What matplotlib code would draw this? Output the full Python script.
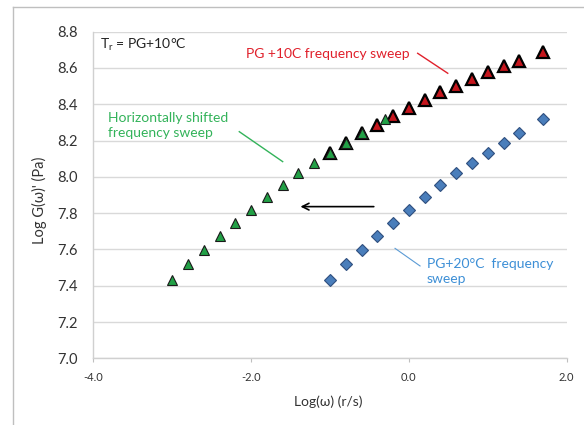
import numpy as np
import matplotlib
matplotlib.use("Agg")
import matplotlib.pyplot as plt
from matplotlib.lines import Line2D

plt.rcParams['font.family'] = ['Lato', 'DejaVu Sans']

# frequency sweep at PG+20C
log_w_20 = np.array([-1.0, -0.8, -0.6, -0.4, -0.2, 0.0, 0.2, 0.4, 0.6, 0.8, 1.0, 1.2, 1.4, 1.7])
log_g_20 = np.array([7.43, 7.52, 7.597, 7.676, 7.748, 7.82, 7.89, 7.955, 8.02, 8.078, 8.133, 8.188, 8.244, 8.319])

# same sweep shifted along the frequency axis
shift = -2.0
log_w_shift = log_w_20 + shift
log_g_shift = log_g_20

# frequency sweep at PG+10C (reference temperature)
log_w_10 = np.array([-1.0, -0.8, -0.6, -0.4, -0.2, 0.0, 0.2, 0.4, 0.6, 0.8, 1.0, 1.2, 1.4, 1.7])
log_g_10 = np.array([8.130, 8.185, 8.240, 8.286, 8.336, 8.378, 8.424, 8.466, 8.503, 8.540, 8.580, 8.613, 8.641, 8.687])

xticks = [-4.0, -2.0, 0.0, 2.0]
yticks = np.round(np.arange(7.0, 8.81, 0.2), 1)

fig = plt.figure(figsize=(5.84, 4.25), dpi=100)
ax = fig.add_axes([0.1598, 0.1569, 0.8106, 0.7685])

ax.plot(log_w_10, log_g_10, ls='none', marker='^', ms=8.5, mfc='#C5161D', mec='black', mew=1.6, zorder=3)
ax.plot(log_w_shift, log_g_shift, ls='none', marker='^', ms=7.2, mfc='#22A046', mec='#1a1a1a', mew=0.8, zorder=4)
ax.plot(log_w_20, log_g_20, ls='none', marker='D', ms=6.5, mfc='#4A7EBB', mec='#2F4F7F', mew=0.8, zorder=4)

ax.set_xlim(-4.0, 2.0)
ax.set_ylim(7.0, 8.8)
ax.set_xticks(xticks)
ax.set_xticklabels([f"{t:.1f}" for t in xticks], fontsize=8, color='#333333')
ax.set_yticks(yticks)
ax.set_yticklabels([f"{t:.1f}" for t in yticks], fontsize=10.5, color='#333333')
ax.tick_params(axis='y', length=0, pad=11)
ax.tick_params(axis='x', length=3, width=0.8, color='#BFBFBF', pad=7)
ax.yaxis.grid(True, color='#D9D9D9', lw=1)
ax.set_axisbelow(True)
for s in ['top', 'right']:
    ax.spines[s].set_visible(False)
for s in ['left', 'bottom']:
    ax.spines[s].set_color('#D0D0D0')
    ax.spines[s].set_linewidth(1)

# annotations
ax.text(-3.915, 8.727, r"T$_\mathregular{r}$ = PG+10°C", fontsize=10, color='#222222', va='center', ha='left')
ax.text(-2.065, 8.677, "PG +10C frequency sweep", fontsize=10, color='#E0202B', va='center', ha='left')
ax.plot([0.111, 0.492], [8.681, 8.571], color='#E0202B', lw=1)
ax.text(-3.81, 8.283, "Horizontally shifted\nfrequency sweep", fontsize=10, color='#33B35A',
        va='center', ha='left', linespacing=1.3)
ax.plot([-2.150, -1.600], [8.249, 8.084], color='#33B35A', lw=1)
ax.text(0.226, 7.476, "PG+20°C  frequency\nsweep", fontsize=10, color='#3D8FD6',
        va='center', ha='left', linespacing=1.3)
ax.plot([-0.176, 0.141], [7.606, 7.509], color='#5B9BD5', lw=0.8)
ax.annotate("", xy=(-1.41, 7.836), xytext=(-0.41, 7.836),
            arrowprops=dict(arrowstyle='->', color='black', lw=1.2, mutation_scale=12))

fig.text(0.5616, 0.0548, "Log(ω) (r/s)", fontsize=10, color='#333333', ha='center', va='center')
fig.text(0.067, 0.529, "Log G(ω)' (Pa)", fontsize=10.5, color='#333333', ha='center', va='center', rotation=90)

# outer chart frame (left and top edges)
fig.add_artist(Line2D([0.0223, 0.0223], [0.0, 0.9835], transform=fig.transFigure, color='#BFBFBF', lw=1))
fig.add_artist(Line2D([0.0223, 1.0], [0.9835, 0.9835], transform=fig.transFigure, color='#BFBFBF', lw=1))

fig.savefig("out.png", dpi=100)
